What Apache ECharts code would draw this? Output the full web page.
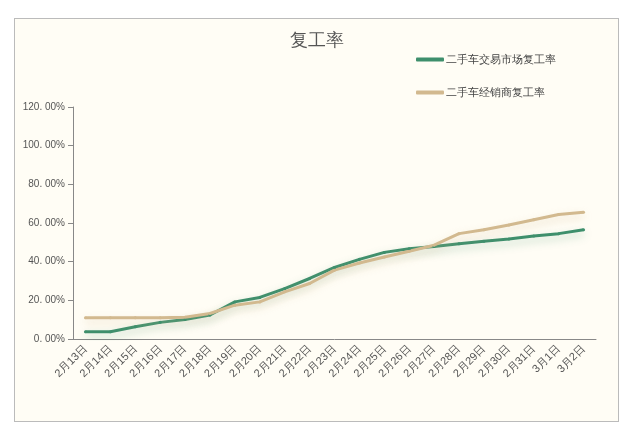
<!DOCTYPE html><html><head><meta charset="utf-8"><script src="https://cdn.jsdelivr.net/npm/echarts@6/dist/echarts.min.js"></script>
<style>body{margin:0;background:#fff}#c{position:absolute;left:14px;top:18px;width:603px;height:402px;border:1px solid #bbb;background:#fffdf5}</style></head><body><div id="c"></div><script>
const categories=['2月13日','2月14日','2月15日','2月16日','2月17日','2月18日','2月19日','2月20日','2月21日','2月22日','2月23日','2月24日','2月25日','2月26日','2月27日','2月28日','2月29日','2月30日','2月31日','3月1日','3月2日'];
const market=[3.8,3.8,6.3,8.6,10.1,12.4,19.2,21.5,26.1,31.3,37,41.2,44.8,46.7,47.9,49.3,50.5,51.7,53.3,54.5,56.5];
const dealer=[11,11,11,11,11.2,13.2,17.5,19.2,24.4,28.7,35.6,39.3,42.4,45.4,48.5,54.5,56.5,59,61.7,64.4,65.6];
const names=['二手车交易市场复工率','二手车经销商复工率'];
const c=echarts.init(document.getElementById('c'));
function s(n,d,col,sh){return{name:n,type:'line',data:d,symbol:'circle',symbolSize:3,
lineStyle:{width:3,color:col,shadowColor:sh,shadowBlur:8,shadowOffsetY:4},itemStyle:{color:col}};}
c.setOption({
title:{text:'复工率',left:'center',top:8,textStyle:{fontSize:18,fontWeight:'normal',color:'#555'}},
legend:{orient:'vertical',left:396,top:30,itemGap:22,itemWidth:28,itemHeight:4,icon:'roundRect',textStyle:{color:'#444',fontSize:11,padding:[0,0,0,-3]},data:names},
grid:{left:58,right:22,top:88,bottom:82},
xAxis:{type:'category',data:categories,boundaryGap:['2%','2%'],axisLine:{lineStyle:{color:'#888'}},axisTick:{show:false},axisLabel:{rotate:45,color:'#555',fontSize:11,interval:0}},
yAxis:{type:'value',min:0,max:120,interval:20,axisLine:{show:true,lineStyle:{color:'#888'}},axisTick:{show:true},splitLine:{show:false},axisLabel:{color:'#555',fontSize:10,formatter:v=>v.toFixed(2).replace('.','. ')+'%'}},
series:[s(names[0],market,'#3e8f6c','rgba(62,143,108,0.35)'),s(names[1],dealer,'#d2b98f','rgba(210,185,143,0.45)')]
});
</script></body></html>
